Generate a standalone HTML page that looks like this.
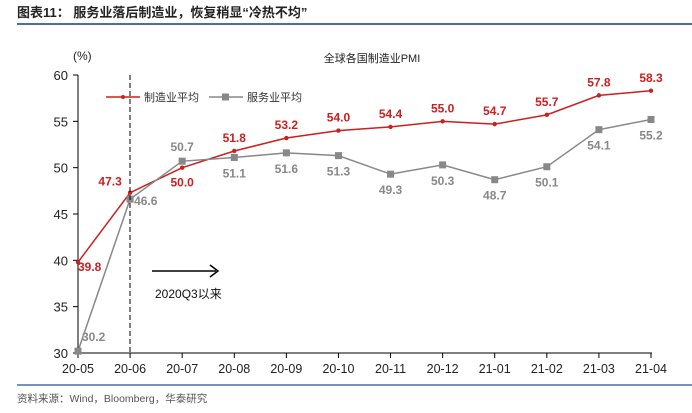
<!DOCTYPE html>
<html><head><meta charset="utf-8"><style>
body{margin:0;background:#fff;width:692px;height:408px;overflow:hidden;font-family:"Liberation Sans","Noto Sans CJK SC",sans-serif}
</style></head><body>
<svg width="692" height="408" xmlns="http://www.w3.org/2000/svg" font-family="Liberation Sans, Noto Sans CJK SC, sans-serif">
<text x="17" y="17" font-size="13" font-weight="bold" fill="#222">图表11：  服务业落后制造业，恢复稍显“冷热不均”</text>
<line x1="17" y1="24" x2="692" y2="24" stroke="#4a6fa5" stroke-width="2"/>
<text x="73" y="60" font-size="12" fill="#222">(%)</text>
<text x="372" y="62" font-size="11" fill="#222" text-anchor="middle">全球各国制造业PMI</text>
<g>
<line x1="106" y1="97" x2="140" y2="97" stroke="#cc1f1f" stroke-width="1.5"/><circle cx="123" cy="97" r="2" fill="#cc1f1f"/>
<text x="144" y="101" font-size="11" fill="#333">制造业平均</text>
<line x1="209" y1="97" x2="243" y2="97" stroke="#888" stroke-width="1.5"/><rect x="222" y="93.5" width="7" height="7" fill="#888"/>
<text x="247" y="101" font-size="11" fill="#333">服务业平均</text>
</g>
<g id="axes"></g>
<g id="marks"></g>
<line x1="130" y1="75" x2="130" y2="353" stroke="#000" stroke-dasharray="5,3" stroke-width="1"/>
<g><line x1="152" y1="271" x2="216" y2="271" stroke="#000" stroke-width="1.5"/><path d="M210 265 L218 271 L210 277" fill="none" stroke="#000" stroke-width="1.5"/></g>
<text x="155" y="298" font-size="12" fill="#111">2020Q3以来</text>
<line x1="17" y1="385" x2="692" y2="385" stroke="#4a6fa5" stroke-width="1.5"/>
<text x="17" y="402" font-size="10.5" fill="#555">资料来源：Wind，Bloomberg，华泰研究</text>
</svg>
<script>
const categories=["20-05","20-06","20-07","20-08","20-09","20-10","20-11","20-12","21-01","21-02","21-03","21-04"];
const manufacturing=[39.8,47.3,50.0,51.8,53.2,54.0,54.4,55.0,54.7,55.7,57.8,58.3];
const services=[30.2,46.6,50.7,51.1,51.6,51.3,49.3,50.3,48.7,50.1,54.1,55.2];
const yTicks=[30,35,40,45,50,55,60];
const NS="http://www.w3.org/2000/svg";
const X=i=>78+i*(573/11);
const Y=v=>353-(v-30)*(278/30);
const ax=document.getElementById('axes'),mk=document.getElementById('marks');
function mkEl(t,a,p){const e=document.createElementNS(NS,t);for(const k in a)e.setAttribute(k,a[k]);p.appendChild(e);return e;}
let e=mkEl('line',{x1:78,y1:75,x2:78,y2:353,stroke:'#000'},ax);


e=mkEl('line',{x1:78,y1:353,x2:652,y2:353,stroke:'#000'},ax);


yTicks.forEach(v=>{mkEl('line',{x1:73,y1:Y(v),x2:78,y2:Y(v),stroke:'#000'},ax);
const t=mkEl('text',{x:68,y:Y(v)+5,'font-size':13,'text-anchor':'end',fill:'#222'},ax);t.textContent=v;

});
categories.forEach((c,i)=>{mkEl('line',{x1:X(i),y1:353,x2:X(i),y2:358,stroke:'#000'},ax);
const t=mkEl('text',{x:X(i),y:373,'font-size':12.5,'text-anchor':'middle',fill:'#222'},ax);t.textContent=c;

});
function series(data,col,name,sq,labelOff){
const p=mkEl('polyline',{points:data.map((v,i)=>X(i)+','+Y(v)).join(' '),fill:'none',stroke:col,'stroke-width':1.5},mk);


data.forEach((v,i)=>{let m;
if(sq)m=mkEl('rect',{x:X(i)-3.5,y:Y(v)-3.5,width:7,height:7,fill:col},mk);
else m=mkEl('circle',{cx:X(i),cy:Y(v),r:2.2,fill:col},mk);


const o=labelOff(i);
const t=mkEl('text',{x:X(i)+o[0],y:Y(v)+o[1],'font-size':12,'font-weight':'bold','text-anchor':o[2]||'middle',fill:col},mk);
t.textContent=v.toFixed(1);

});
}
series(manufacturing,'#cc1f1f','manufacturing',false,i=>i==0?[0,9,'start']:i==1?[-20,-7]:i==2?[0,19]:[0,-9]);
series(services,'#888','services',true,i=>i==0?[4,-10,'start']:i==1?[4,6,'start']:i==2?[0,-10]:[0,20]);
</script>
</body></html>
